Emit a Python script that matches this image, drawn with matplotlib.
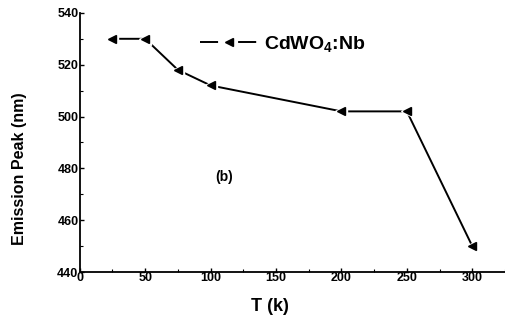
import matplotlib

matplotlib.use("Agg")
import matplotlib.pyplot as plt
from matplotlib.lines import Line2D
from matplotlib.ticker import MultipleLocator

plt.rcParams["font.family"] = ["Liberation Sans", "DejaVu Sans"]
plt.rcParams["font.weight"] = "bold"
plt.rcParams["mathtext.fontset"] = "custom"
plt.rcParams["mathtext.bf"] = "Liberation Sans:bold"
plt.rcParams["mathtext.rm"] = "Liberation Sans:bold"
plt.rcParams["mathtext.default"] = "bf"

# data
temps_k = [25, 50, 75, 100, 200, 250, 300]
peak_nm = [530, 530, 518, 512, 502, 502, 450]
series_label = r"CdWO$_{4}$:Nb"
panel_tag = "(b)"

fig = plt.figure(figsize=(5.05, 3.22), dpi=100)
ax = fig.add_axes([0.158, 0.155, 0.842, 0.805])

ax.plot(temps_k, peak_nm, color="black", lw=1.4, zorder=2)
# white halo under the symbols gives the Origin-style gap in the line
ax.plot(temps_k, peak_nm, ls="none", marker="<", ms=9, color="white", zorder=3)
ax.plot(temps_k, peak_nm, ls="none", marker="<", ms=5.5, color="black", zorder=4)

ax.set_xlim(0, 325)
ax.set_ylim(440, 540)
ax.xaxis.set_major_locator(MultipleLocator(50))
ax.xaxis.set_minor_locator(MultipleLocator(25))
ax.yaxis.set_major_locator(MultipleLocator(20))
ax.yaxis.set_minor_locator(MultipleLocator(10))

for side in ("top", "right"):
    ax.spines[side].set_visible(False)
for side in ("left", "bottom"):
    ax.spines[side].set_linewidth(1.3)

ax.tick_params(which="major", direction="in", length=3, width=1, labelsize=9, pad=1)
ax.tick_params(which="minor", direction="in", length=2, width=0.8)
ax.tick_params(axis="x", pad=0)
for lab in ax.get_xticklabels() + ax.get_yticklabels():
    lab.set_fontweight("bold")

ax.set_xlabel("T (k)", fontsize=13, fontweight="bold")
ax.set_ylabel("Emission Peak (nm)", fontsize=11.5, fontweight="bold")
ax.xaxis.set_label_coords(0.447, -0.10)
ax.yaxis.set_label_coords(-0.123, 0.398)

ax.text(110, 476.5, panel_tag, fontsize=10, fontweight="bold", ha="center", va="center")

handle = Line2D([], [], color="black", lw=1.4, ls=(0, (9.3, 10.3)),
                marker="<", ms=5.5)
leg = ax.legend([handle], [series_label], loc="upper left",
                bbox_to_anchor=(0.261, 0.955), frameon=False,
                prop={"size": 14, "weight": "bold"}, handlelength=2.9,
                handletextpad=0.36, borderpad=0)

fig.savefig("out.png", dpi=100)
